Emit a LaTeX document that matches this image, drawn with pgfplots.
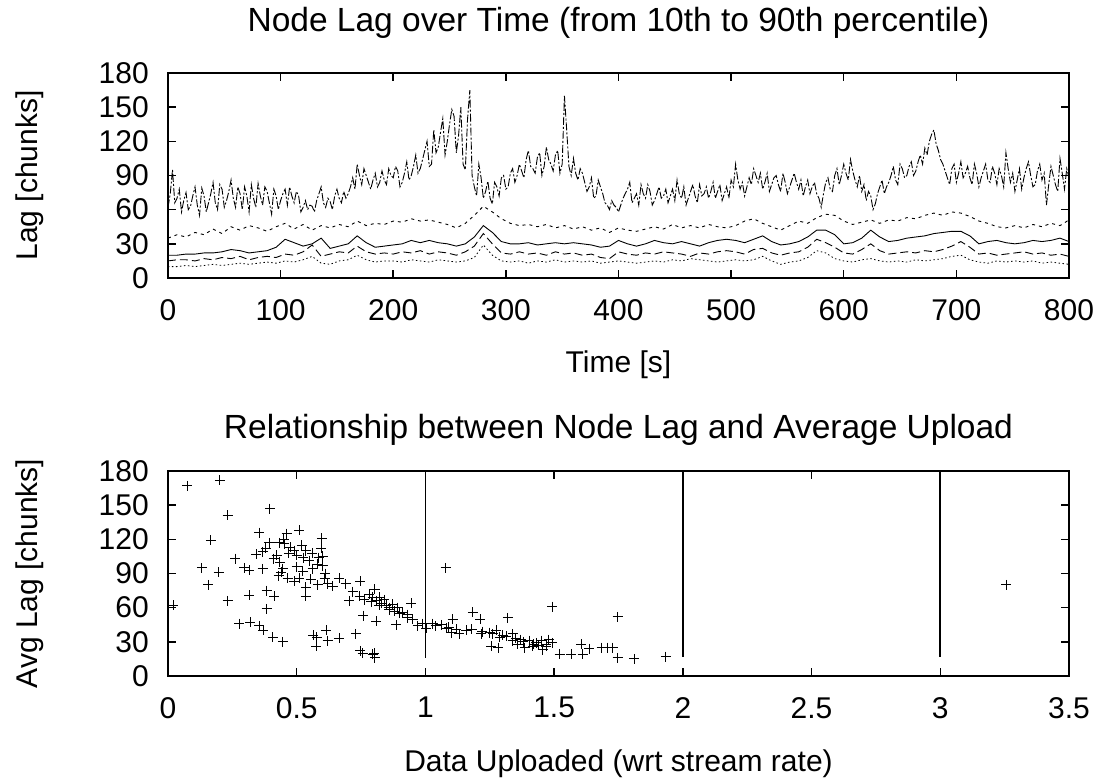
\documentclass[border=0pt]{standalone}
\usepackage{fontspec}
\setmainfont{Liberation Sans}
\usepackage{pgfplots}
\usepackage{pgfplotstable}
\pgfplotsset{compat=1.18}

\pgfplotstableread{
t p10 p25 p50 p75
0 10 15 20 35
8 10 16 20 38
16 11 16 21 36
24 10 15 21 40
32 11 17 22 38
40 12 16 22 43
48 11 18 23 39
56 12 17 25 45
64 13 19 24 42
72 12 16 22 46
80 13 18 23 44
88 14 19 24 41
96 13 18 27 45
104 15 21 34 48
112 14 20 31 43
120 16 23 28 47
128 19 29 30 42
136 13 19 35 46
144 12 21 26 44
152 15 23 28 47
160 16 22 30 45
168 20 28 37 50
176 16 23 31 46
184 14 21 27 48
192 15 22 28 47
200 15 21 29 50
208 14 23 30 49
216 16 22 33 52
224 15 24 31 50
232 14 21 33 51
240 16 23 31 49
248 15 22 30 47
256 14 20 28 44
264 15 23 30 48
272 18 28 36 55
280 29 39 46 63
288 20 30 40 58
296 15 22 32 52
304 14 21 30 48
312 15 23 30 46
320 13 21 31 47
328 15 22 29 45
336 14 20 30 47
344 16 23 31 44
352 14 21 30 46
360 15 22 31 43
368 14 20 30 45
376 15 21 29 42
384 13 18 27 44
392 14 17 28 40
400 15 23 33 44
408 14 21 30 42
416 13 20 28 41
424 14 22 30 43
432 15 21 33 45
440 14 23 31 43
448 16 22 30 47
456 15 21 32 44
464 17 19 30 46
472 16 22 28 44
480 15 21 31 47
488 14 23 33 45
496 15 24 34 44
504 16 23 33 46
512 15 21 31 50
520 16 25 34 52
528 19 26 37 48
536 15 22 32 45
544 12 20 29 42
552 14 22 30 46
560 15 23 32 50
568 18 27 36 48
576 24 34 42 53
584 22 31 42 56
592 17 27 38 55
600 15 22 30 50
608 14 21 31 47
616 16 25 35 49
624 17 30 42 51
632 15 24 36 48
640 14 21 32 51
648 15 22 33 50
656 14 23 35 53
664 16 22 36 52
672 15 24 37 55
680 16 23 39 57
688 17 25 40 55
696 19 28 41 58
704 20 32 41 57
712 16 27 37 54
720 14 21 30 50
728 13 22 32 48
736 15 20 33 45
744 14 21 31 44
752 15 22 30 46
760 14 23 31 44
768 15 21 33 47
776 13 22 32 45
784 14 20 33 48
792 13 21 35 46
800 12 19 32 51
}\pctl

\pgfplotstableread{
t p90
0 62
2 74
4 95
6 66
8 70
10 78
12 58
14 68
16 75
18 60
20 63
22 72
24 80
26 64
28 55
30 79
32 72
34 58
36 66
38 74
40 84
42 66
44 60
46 82
48 78
50 62
52 68
54 76
56 86
58 70
60 62
62 80
64 74
66 60
68 80
70 72
72 58
74 82
76 70
78 62
80 83
82 72
84 64
86 80
88 76
90 66
92 56
94 78
96 72
98 60
100 68
102 74
104 78
106 64
108 80
110 72
112 66
114 76
116 72
118 58
120 62
122 68
124 60
126 64
128 63
130 58
132 68
134 74
136 80
138 66
140 62
142 70
144 67
146 60
148 72
150 78
152 70
154 66
156 76
158 70
160 74
162 80
164 88
166 78
168 100
170 90
172 82
174 96
176 90
178 84
180 78
182 86
184 92
186 80
188 84
190 94
192 86
194 82
196 96
198 90
200 88
202 98
204 94
206 80
208 84
210 92
212 102
214 86
216 90
218 98
220 108
222 92
224 96
226 104
228 112
230 120
232 98
234 100
236 130
238 110
240 115
242 128
244 140
246 108
248 120
250 135
252 148
254 142
256 110
258 125
260 150
262 100
264 95
266 140
268 165
270 90
272 80
274 72
276 100
278 88
280 70
282 76
284 85
286 70
288 65
290 84
292 80
294 72
296 88
298 90
300 78
302 80
304 92
306 96
308 84
310 90
312 100
314 94
316 88
318 104
320 112
322 98
324 96
326 92
328 106
330 110
332 90
334 98
336 115
338 104
340 100
342 94
344 108
346 112
348 92
350 100
352 160
354 130
356 98
358 90
360 105
362 92
364 86
366 96
368 92
370 84
372 76
374 80
376 88
378 70
380 72
382 86
384 80
386 74
388 66
390 64
392 60
394 68
396 64
398 62
400 58
402 64
404 70
406 74
408 78
410 84
412 66
414 70
416 74
418 64
420 82
422 74
424 70
426 82
428 76
430 64
432 68
434 74
436 80
438 70
440 72
442 78
444 66
446 72
448 78
450 68
452 86
454 74
456 70
458 80
460 64
462 70
464 76
466 82
468 72
470 66
472 82
474 72
476 74
478 80
480 70
482 76
484 84
486 70
488 76
490 82
492 68
494 74
496 80
498 70
500 86
502 80
504 100
506 86
508 78
510 84
512 72
514 80
516 88
518 82
520 96
522 90
524 84
526 92
528 78
530 84
532 92
534 76
536 82
538 88
540 90
542 82
544 76
546 92
548 84
550 74
552 80
554 86
556 92
558 84
560 78
562 86
564 72
566 80
568 86
570 74
572 80
574 84
576 74
578 70
580 62
582 74
584 84
586 88
588 78
590 76
592 90
594 96
596 82
598 90
600 100
602 92
604 86
606 104
608 94
610 86
612 80
614 90
616 76
618 82
620 68
622 76
624 72
626 60
628 65
630 74
632 80
634 86
636 74
638 80
640 84
642 90
644 98
646 86
648 82
650 100
652 96
654 88
656 90
658 98
660 102
662 90
664 94
666 102
668 108
670 100
672 114
674 108
676 120
678 126
680 130
682 118
684 112
686 104
688 100
690 94
692 88
694 82
696 96
698 100
700 84
702 92
704 102
706 88
708 92
710 98
712 88
714 82
716 100
718 92
720 80
722 88
724 94
726 100
728 86
730 84
732 98
734 92
736 82
738 96
740 90
742 80
744 110
746 96
748 84
750 92
752 76
754 86
756 96
758 78
760 88
762 96
764 102
766 90
768 80
770 82
772 94
774 100
776 86
778 92
780 64
782 82
784 98
786 90
788 82
790 76
792 105
794 92
796 78
798 96
800 88
}\pninety

\pgfplotstableread{
x y
0.074 167
0.202 172
0.02 62
0.232 141
0.396 147
0.167 119
0.262 103
0.132 95
0.197 91
0.157 80
0.232 66
0.277 46
0.319 47
0.355 44
0.37 40
0.407 34
0.446 30
0.383 59
0.316 71
0.383 75
0.413 70
0.297 95
0.316 93
0.368 94
0.355 126
0.394 117
0.433 117
0.461 125
0.51 128
0.598 121
0.342 107
0.368 109
0.422 106
0.452 116
0.474 113
0.49 110
0.5 106
0.536 110
0.526 104
0.549 101
0.595 112
0.601 105
0.585 104
0.435 100
0.446 94
0.44 91
0.465 86
0.49 83
0.51 86
0.523 92
0.562 94
0.536 78
0.555 85
0.582 80
0.608 86
0.62 81
0.64 79
0.666 86
0.601 97
0.536 70
0.747 83
0.718 74
0.705 66
0.744 70
0.762 67
0.782 72
0.803 76
0.795 69
0.808 66
0.828 64
0.821 69
0.847 62
0.86 60
0.873 63
0.88 57
0.893 60
0.912 56
0.931 54
0.944 64
0.93 51
0.886 45
0.97 44
0.99 46
1.003 42
0.759 53
0.808 48
0.73 37
0.666 33
0.614 40
0.62 31
0.565 36
0.578 34
0.575 26
0.747 22
0.756 20
0.795 19
0.804 16
0.802 20
1.078 95
1.028 46
1.061 45
1.08 42
1.106 50
1.1 38
1.132 37
1.158 40
1.184 56
1.212 50
1.216 37
1.262 37
1.275 40
1.32 51
1.313 35
1.288 34
1.256 26
1.282 25
1.339 31
1.359 28
1.385 25
1.404 31
1.43 29
1.45 31
1.456 23
1.469 28
1.492 29
1.492 61
1.339 37
1.371 32
1.417 26
1.521 19
1.566 19
1.606 28
1.611 19
1.637 24
1.684 25
1.708 25
1.728 25
1.747 52
1.747 16
1.812 15
1.934 17
3.256 80
0.41 103
0.47 108
0.52 115
0.56 108
0.43 88
0.5 96
0.58 98
0.79 65
0.82 62
0.84 67
0.86 58
0.9 55
0.95 50
1.04 44
1.09 43
1.12 41
1.18 41
1.22 39
1.25 38
1.3 36
1.35 33
1.38 30
1.42 28
1.44 27
1.47 26
1.48 32
0.38 112
0.45 120
0.61 90
0.69 81
}\scatterdata

\pgfplotsset{
  gnu/.style={
    scale only axis, width=901pt, height=205pt,
    tick align=inside, major tick length=8pt,
    axis line style={line width=1.5pt},
    tick style={line width=1.5pt, black},
    /pgf/number format/assume math mode=true,
    ymin=0, ymax=180, ytick={0,30,...,180},
    yticklabel style={inner sep=0pt, xshift=-19pt},
    xticklabel style={inner sep=0pt, yshift=-21pt},
    every axis title/.style={at={(0.5,1.2)}, anchor=base, font=\fontsize{33.5}{38}\selectfont},
    every axis x label/.style={at={(0.5,-0.4634)}, anchor=base},
    every axis y label/.style={at={(-0.1443,0.5)}, rotate=90, anchor=base},
  }
}

\begin{document}
\fontsize{30}{35}\selectfont
\begin{tikzpicture}
\path[use as bounding box] (-168pt,73pt) rectangle (938pt,-708pt);
\begin{axis}[gnu, at={(0,0)}, anchor=north west,
  xmin=0, xmax=800, xtick={0,100,...,800},
  title={Node Lag over Time (from 10th to 90th percentile)},
  xlabel={Time [s]}, ylabel={Lag [chunks]}]
\addplot[line width=0.9pt, dash pattern=on 8pt off 2pt on 2pt off 2pt] table[x=t,y=p90]{\pninety};
\addplot[line width=0.9pt, dash pattern=on 3pt off 4pt] table[x=t,y=p75]{\pctl};
\addplot[line width=0.9pt] table[x=t,y=p50]{\pctl};
\addplot[line width=0.9pt, dash pattern=on 8pt off 4pt] table[x=t,y=p25]{\pctl};
\addplot[line width=0.8pt, dash pattern=on 1.5pt off 2.5pt] table[x=t,y=p10]{\pctl};
\end{axis}
\begin{axis}[gnu, at={(0,-398pt)}, anchor=north west,
  xmin=0, xmax=3.5, xtick={0,0.5,...,3.5},
  every axis title/.append style={at={(0.5,1.16)}},
  title={Relationship between Node Lag and Average Upload},
  xlabel={Data Uploaded (wrt stream rate)}, ylabel={Avg Lag [chunks]}]
\addplot[line width=1.8pt] coordinates {(1,16) (1,180)};
\addplot[line width=1.8pt] coordinates {(2,17) (2,180)};
\addplot[line width=1.8pt] coordinates {(3,17) (3,180)};
\addplot[only marks, mark=+, mark size=5pt, mark options={line width=1pt}] table[x=x,y=y]{\scatterdata};
\end{axis}
\end{tikzpicture}
\end{document}
